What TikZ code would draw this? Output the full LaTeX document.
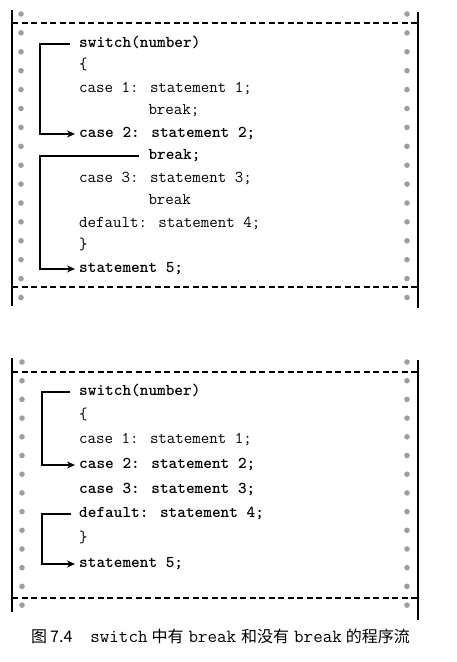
\documentclass[tikz,border=0pt]{standalone}
\usepackage{fontspec}
\setmainfont{Liberation Serif}
\newfontfamily\cjk{Noto Sans CJK SC}
\usetikzlibrary{arrows.meta}

\begin{document}
\begin{tikzpicture}[x=1pt,y=-1pt,inner sep=0pt]
    \tikzstyle{code}=[anchor=west,text height=9pt,text depth=2pt,font=\ttfamily\fontsize{16.5}{19}\selectfont]
    \tikzstyle{hot}=[code,font=\ttfamily\bfseries\fontsize{16.5}{19}\selectfont]
    \tikzstyle{flow}=[-{Stealth[length=8pt,width=7pt]},line width=1.3pt]
    \tikzstyle{rim}=[line width=1.5pt]
    \tikzstyle{perf}=[line width=1.2pt,dash pattern=on 6pt off 3.5pt]
    \useasboundingbox (0,0) rectangle (457,662);

    % top sheet
    \draw[rim] (12,10) -- (12,306);
    \draw[rim] (418,12) -- (418,308);
    \draw[perf] (12,23) -- (418,23);
    \draw[perf] (12,287) -- (418,287);
    \foreach \k in {0,...,15} {
        \fill[black!38] (21,14+18.9*\k) circle (2.8);
        \fill[black!38] (407,14+18.9*\k) circle (2.8);
    };

    \node[hot] (a1) at (79,44) {switch(number)};
    \node[code] (a2) at (79,66) {\{};
    \node[code] (a3) at (79,89) {case 1: statement 1;};
    \node[code] (a4) at (148.3,111) {break;};
    \node[hot] (a5) at (79,134) {case 2: statement 2;};
    \node[hot] (a6) at (148.3,156) {break;};
    \node[code] (a7) at (79,179) {case 3: statement 3;};
    \node[code] (a8) at (148.3,201) {break};
    \node[code] (a9) at (79,224) {default: statement 4;};
    \node[code] (a10) at (79,246) {\}};
    \node[hot] (a11) at (79,269) {statement 5;};

    \draw[flow] ([xshift=-9pt]a1.west) -- ++(-30,0) |- ([xshift=-4pt]a5.west);
    \draw[flow] ([xshift=-9pt]a6.west) -- ++(-99.3,0) |- ([xshift=-4pt]a11.west);

    % bottom sheet
    \draw[rim] (12,358) -- (12,612);
    \draw[rim] (418,360) -- (418,620);
    \draw[perf] (12,372) -- (418,372);
    \draw[perf] (12,598) -- (418,598);
    \foreach \k in {0,...,13} {
        \fill[black!38] (22,362+18.7*\k) circle (2.8);
        \fill[black!38] (407,362+18.7*\k) circle (2.8);
    };

    \node[hot] (b1) at (79,392) {switch(number)};
    \node[code] (b2) at (79,416) {\{};
    \node[code] (b3) at (79,440) {case 1: statement 1;};
    \node[hot] (b4) at (79,465) {case 2: statement 2;};
    \node[hot] (b5) at (79,490) {case 3: statement 3;};
    \node[hot] (b6) at (79,514) {default: statement 4;};
    \node[code] (b7) at (79,539) {\}};
    \node[hot] (b8) at (79,564) {statement 5;};

    \draw[flow] ([xshift=-9pt]b1.west) -- ++(-28,0) |- ([xshift=-4pt]b4.west);
    \draw[flow] ([xshift=-8pt]b6.west) -- ++(-29,0) |- ([xshift=-4pt]b8.west);

    \node[anchor=west,font=\cjk\fontsize{16}{18}\selectfont] (cap) at (31,636)
        {图\hspace{3pt}7.4\hspace{18pt}{\ttfamily\fontsize{18.5}{18}\selectfont switch}\hspace{4pt}中有\hspace{5pt}{\ttfamily\fontsize{18.5}{18}\selectfont break}\hspace{5pt}和没有\hspace{5pt}{\ttfamily\fontsize{18.5}{18}\selectfont break}\hspace{4pt}的程序流};
\end{tikzpicture}
\end{document}
